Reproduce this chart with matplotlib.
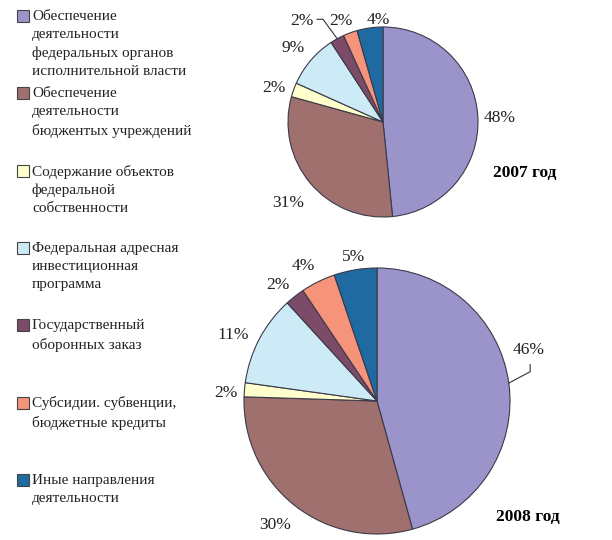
import numpy as np
import matplotlib.pyplot as plt
from matplotlib.patches import Rectangle

# categories and shares (%)
categories = ["Обеспечение\nдеятельности\nфедеральных органов\nисполнительной власти",
              "Обеспечение\nдеятельности\nбюджентых учреждений",
              "Содержание объектов\nфедеральной\nсобственности",
              "Федеральная адресная\nинвестиционная\nпрограмма",
              "Государственный\nоборонных заказ",
              "Субсидии. субвенции,\nбюджетные кредиты",
              "Иные направления\nдеятельности"]
colors = ["#9A94CA", "#A0706E", "#FFFFCC", "#CDEBF7", "#7C4B67", "#F5937B", "#1E6AA1"]

shares_2007 = [48.4, 30.9, 2.4, 9.1, 2.4, 2.4, 4.4]
shares_2008 = [45.7, 29.8, 1.7, 11.0, 2.4, 4.2, 5.2]
years = ["2007 год", "2008 год"]

plt.rcParams['font.family'] = ['Liberation Serif', 'DejaVu Serif']

W, H = 612, 540
fig = plt.figure(figsize=(W / 100, H / 100), dpi=100)
ax = fig.add_axes([0, 0, 1, 1])

# layout: pie centre (px, from top), radius, label (radius factor, angle shift)
pies = [
    dict(vals=shares_2007, cx=383, cy=122, r=95, title_xy=(525, 173),
         lab=[(1.23, -1), (1.31, 0.4), (1.2, 2.5), (1.23, 1), (1.36, 10), (1.15, 2.5), (1.08, -5.3)],
         leader=4),
    dict(vals=shares_2008, cx=377, cy=401, r=133, title_xy=(528, 517),
         lab=[(1.2, 11), (1.21, -1.2), (1.14, 1.9), (1.19, 3.1), (1.15, 2.3), (1.16, 2.3), (1.1, -0.3)],
         leader=0),
]

for p, year in zip(pies, years):
    cx, cy = p['cx'], H - p['cy']
    wedges, _ = ax.pie(p['vals'], colors=colors, startangle=90, counterclock=False,
                       center=(cx, cy), radius=p['r'], frame=True,
                       wedgeprops=dict(edgecolor='#3a3a4a', linewidth=0.8))
    for i, (w, v) in enumerate(zip(wedges, p['vals'])):
        mid = np.deg2rad((w.theta1 + w.theta2) / 2)
        k, dth = p['lab'][i]
        a = mid + np.deg2rad(dth)
        lx = cx + p['r'] * k * np.cos(a)
        ly = cy + p['r'] * k * np.sin(a)
        ax.text(lx, ly, f"{v:.0f}%", ha='center', va='center', fontsize=12.5, color='#222222')
        if i == p['leader']:
            ex = cx + p['r'] * np.cos(mid)
            ey = cy + p['r'] * np.sin(mid)
            if i == 4:
                pts = [(ex, ey), (lx + 21, ly + 2), (lx + 15, ly + 2)]
            else:
                pts = [(ex, ey), (lx + 2, ly - 22), (lx + 2, ly - 15)]
            ax.plot(*zip(*pts), color='#333333', linewidth=0.8)
    tx, ty = p['title_xy']
    ax.text(tx, H - ty, year, ha='center', va='center', fontsize=12.5, fontweight='bold')

ax.set_xlim(0, W)
ax.set_ylim(0, H)
ax.set_aspect('equal')
ax.axis('off')

# legend on the left
for i, (name, c) in enumerate(zip(categories, colors)):
    yc = H - (16 + 77.3 * i)
    ax.add_patch(Rectangle((17, yc - 6), 12, 12, facecolor=c, edgecolor='#444444', linewidth=0.8))
    ax.text(32, yc + 6, name, ha='left', va='top', fontsize=11, linespacing=1.5, color='#222222')

fig.savefig("out.png", dpi=100)
